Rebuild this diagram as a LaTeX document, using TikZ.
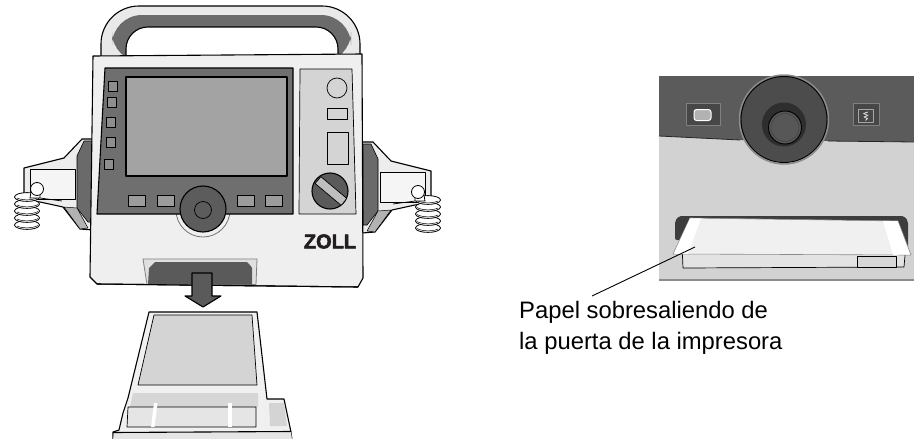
\documentclass[tikz,border=0pt]{standalone}
\usepackage{fontspec}
\setmainfont{Liberation Sans}
\definecolor{bodyc}{HTML}{EFEFEF}
\definecolor{handlelight}{HTML}{E9E9E9}
\definecolor{handledark}{HTML}{6B6B6B}
\definecolor{panelc}{HTML}{6F6F6F}
\definecolor{screenc}{HTML}{A3A3A3}
\definecolor{keyc}{HTML}{8E8E8E}
\definecolor{softkeyc}{HTML}{9C9C9C}
\definecolor{knobc}{HTML}{5C5C5C}
\definecolor{rpanelc}{HTML}{D4D4D4}
\definecolor{dialc}{HTML}{5A5A5A}
\definecolor{slotc}{HTML}{5A5A5A}
\definecolor{bracketc}{HTML}{EDEDED}
\definecolor{facec}{HTML}{6A6A6A}
\definecolor{facetc}{HTML}{B2B2B2}
\definecolor{trayc}{HTML}{F0F0F0}
\definecolor{traypaper}{HTML}{D4D4D4}
\definecolor{insetdark}{HTML}{5B5B5B}
\definecolor{insetlight}{HTML}{D2D2D2}
\definecolor{logoc}{HTML}{231F20}
\begin{document}
\begin{tikzpicture}[x=1pt,y=-1pt,line join=round,
  outline/.style={draw=black,line width=1.1pt},
  thinline/.style={draw=black,line width=0.7pt},
  finger/.style={draw=black,line width=0.8pt,fill=white},
  paddle/.pic={
    % bracket holding the paddle
    \path[outline,fill=bracketc] (93,139) -- (82,139) -- (64,158) -- (24,168)
      -- (24,200) -- (40,202) -- (63,207) -- (80,229) -- (93,230);
    \path[fill=facec,draw=black,line width=0.6pt] (92,141) -- (84,141) -- (77,156)
      -- (77,208) -- (88,222) -- (92,222) -- cycle;
    \path[fill=facetc,draw=black,line width=0.5pt] (64,207) -- (77,208) -- (88,228) -- (80,229) -- cycle;
    \path[thinline,fill=white!96!black] (30,169) rectangle (75,199);
    % coiled fingers
    \foreach \yy in {225,218,211,204,197}{
      \path[finger] (27,\yy) ellipse[x radius=12.5pt,y radius=4.4pt];
      \draw[line width=0.5pt] (17,\yy+1) .. controls (22,\yy+3.5) and (33,\yy+3.5) .. (38,\yy+0.5);
    }
    % thumb
    \path[finger] (31,192) -- (40,193) -- (40,198) -- (30,198) -- cycle;
    \path[finger] (37,189) circle[radius=6.5pt];
    \draw[line width=0.7pt] (40,198) -- (62,201);
  }]
\useasboundingbox (0,0) rectangle (914,439);

% ---------- monitor front view ----------
% carrying handle
\path[outline,fill=handlelight,rounded corners=38pt] (101,62) -- (101,6) -- (360,6) -- (360,62);
\path[fill=handledark,rounded corners=30pt] (112,62) -- (112,15) -- (351,15) -- (351,62) -- cycle;
\path[outline,fill=white,rounded corners=22pt] (126,62) -- (126,27) -- (338,27) -- (338,62);

% paddles on both sides
\pic (leftpaddle) at (0,0) {paddle};
\pic[xscale=-1] (rightpaddle) at (455,3) {paddle};

% housing
\path[outline,fill=bodyc] (93,56) -- (362,54) -- (363,278) -- (358,287) -- (97,284) -- (90,277) -- cycle;

% recess around the navigation knob
\path[draw=black!55,line width=0.8pt,fill=bodyc] (203,210) circle[radius=27pt];

% front panel and display
\path[outline,fill=panelc] (105,68) -- (293,68) -- (293,214) -- (97,214) -- cycle;
\path[outline,fill=screenc] (126,77) rectangle (287,176);

% left column of keys
\foreach \xa/\ya in {108/81,107/97,106/117,106/137,104/159}
  \path[thinline,fill=keyc] (\xa,\ya) rectangle ++(9.5,10);

% soft keys under the display
\foreach \xa in {128,157,237,265}
  \path[thinline,fill=softkeyc] (\xa,195) rectangle ++(17,11);

% navigation knob
\path[outline,fill=knobc] (203,209) circle[radius=23pt];
\path[thinline,fill=knobc] (203,210) circle[radius=8.5pt];

% right control panel
\path[thinline,fill=rpanelc] (300,69) -- (352,69) -- (356,214) -- (299,214) -- cycle;
\path[thinline,fill=rpanelc] (337,88) circle[radius=10pt];
\path[thinline,fill=rpanelc] (327,108) rectangle (347,119);
\path[thinline,fill=rpanelc] (327,132) rectangle (348,164);
\path[outline,fill=dialc] (330,191) circle[radius=18pt];
\begin{scope}
  \clip (330,191) circle[radius=17.5pt];
  \path[thinline,fill=black!25] (320.9,176.7) -- (346.9,198.5) -- (341.1,205.3) -- (315.1,183.5) -- cycle;
\end{scope}

% logo
\node[text=logoc,inner sep=0pt] (logo) at (330,241.5)
  {\fontsize{20}{20}\selectfont\bfseries\addfontfeature{FakeBold=2.5}ZOLL};

% printer door opening
\path[draw=black!50,line width=0.8pt,fill=black!12] (143,259) -- (257,259) -- (256,284.5) -- (147,284.5) -- cycle;
\path[fill=slotc] (148,284.5) -- (149,268) -- (152,265) -- (155,262) -- (247,262)
  -- (250,265) -- (252,268) -- (252,284.5) -- cycle;
\draw[outline] (97,284) -- (358,287);

% arrow towards the paper tray
\path[outline,fill=slotc] (192,273) -- (212,273) -- (212,296) -- (221,296) -- (203,307)
  -- (185,296) -- (192,296) -- cycle;

% paper tray pulled out
\path[outline,fill=trayc] (149,312) -- (257,312) -- (267,399) -- (284,399) -- (291,432)
  -- (292,440) -- (113,440) -- (113,432) -- (119,430) -- (123,413) -- (128,398) -- cycle;
\path[thinline,fill=traypaper] (154,315) -- (252,315) -- (257,385) -- (138,385) -- cycle;
\path[fill=black!16] (133,393) -- (258,393) -- (258,407) -- (130,407) -- cycle;
\path[thinline,fill=black!10] (128,407) -- (256,407) -- (256,427) -- (127,427) -- cycle;
\path[fill=white] (154,403) -- (157.5,403) -- (154.5,427) -- (151,427) -- cycle;
\path[fill=white] (228,403) -- (231.5,403) -- (231.5,427) -- (228,427) -- cycle;
\path[fill=black!17] (269,403) -- (284,403) -- (287,426) -- (270,426) -- cycle;
\path[fill=black!10] (114,432.5) -- (291,431.5) -- (292,440) -- (113,440) -- cycle;
\draw[outline] (113,432.5) -- (291,431.5);

% ---------- close-up of the printer door ----------
\path[fill=insetlight] (659,76) rectangle (914,280);
\draw[black!45,line width=1.2pt] (659,280) -- (914,280);
\path[fill=insetdark] (659,76) -- (914,76) -- (914,142) -- (740,140) -- (659,136) -- cycle;
\draw[black!85,line width=0.8pt] (659,136) -- (740,140);
\draw[black!85,line width=0.8pt] (828,141) -- (914,142);

% keys beside the knob
\path[fill=black!72,draw=black!50,line width=1pt] (686,103) rectangle (720,125);
\path[draw=white,line width=1pt,fill=black!30,rounded corners=2.5pt] (694,109.5) rectangle (711,120.5);
\path[fill=black!72,draw=black!50,line width=1pt] (853,103) rectangle (879,125);
\path[draw=black!35,line width=0.8pt] (858,109.5) rectangle (873,122);
\draw[white!85!black,line width=0.8pt] (868,112) -- (863.5,113.5) -- (868,115.5) -- (864,117)
  -- (867.5,118.5) -- (865.5,120.5);

% large knob
\path[draw=black!45,line width=1.5pt] (784,119.5) circle[radius=44.5pt];
\path[draw=black,line width=0.9pt,fill=black!70] (784,119.5) circle[radius=43pt];
\path[fill=black!82] (784,124.5) circle[radius=22pt];
\path[draw=black,line width=0.9pt,fill=black!66] (785,127.5) circle[radius=16.5pt];
\path[draw=black!75,line width=0.5pt] (785,127.5) circle[radius=14pt];

% door frame, door and protruding paper
\path[fill=black!76,rounded corners=2pt] (675,240) -- (675,221) -- (679,216) -- (904,216)
  -- (908,221) -- (908,248) -- cycle;
\path[thinline,fill=black!11] (682,244) -- (683,268) -- (904,267) -- (906,244) -- cycle;
\path[draw=black!45,line width=0.6pt,fill=black!6] (690,218) -- (898,221) -- (911,255) -- (673,254) -- cycle;
\path[fill=white] (690,218.3) -- (701,218.5) -- (688,254) -- (673.8,253.8) -- cycle;
\path[fill=white] (883,220.8) -- (897.6,221.2) -- (910,254.6) -- (893,254.8) -- cycle;
\path[thinline,fill=black!16] (857,256) rectangle (896,267);

% caption with leader
\coordinate (paperpt) at (695,247);
\coordinate (leadend) at (592,296);
\draw[line width=0.9pt] (paperpt) -- (leadend);
\node[anchor=north west,inner sep=0pt,align=left,
  font=\fontsize{23.8}{31}\selectfont] (lbl) at (519,301)
  {Papel sobresaliendo de\\la puerta de la impresora};
\end{tikzpicture}
\end{document}
